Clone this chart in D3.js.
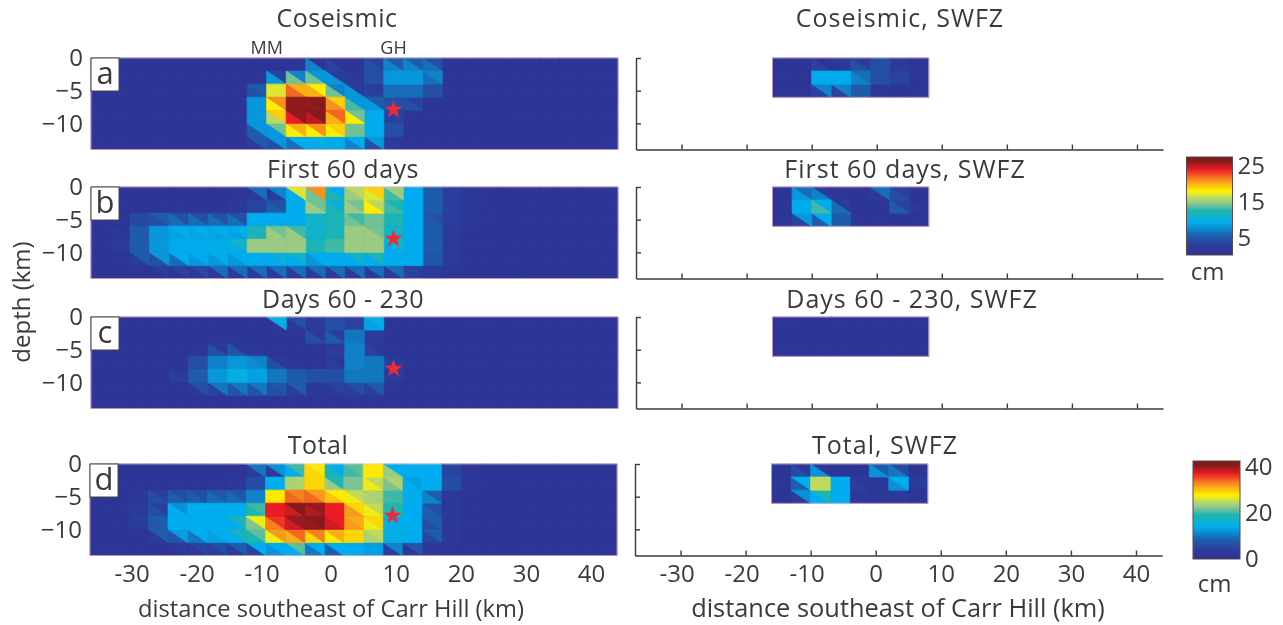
<!DOCTYPE html>
<html>
<head>
<meta charset="utf-8">
<script src="https://d3js.org/d3.v7.min.js"></script>
<style>
	html, body { margin: 0; padding: 0; background: #fff; }
	svg { display: block; filter: blur(0.5px); }
	text { font-family: "Open Sans", sans-serif; fill: #3a3a3a; }
</style>
</head>
<body>
<svg id="chart" width="1283" height="625"></svg>
<script>
// slip per triangle in cm, one row per 2 km of depth, 27 columns of 3 km from -37 km
var coseismicUpper = [
	[1,1,1,1,1,1,1,1,1,1,1,1,1,1,3,5,5,4,1,1,1,1,1,1,1,1,1],
	[1,1,1,1,1,1,1,1,1,3,7,8,2,1,4,8,8,7,1,1,1,1,1,1,1,1,1],
	[1,1,1,1,1,1,1,1,5,17,20,18,7,2,2,6,6,4,1,1,1,1,1,1,1,1,1],
	[1,1,1,1,1,1,1,1,8,21,26,26.5,19,8,5,4,3,1,1,1,1,1,1,1,1,1,1],
	[1,1,1,1,1,1,1,1,8,19,26,26.5,22,14,9,3,1,1,1,1,1,1,1,1,1,1,1],
	[1,1,1,1,1,1,1,1,8,14,20,21,19,14,9,4,1,1,1,1,1,1,1,1,1,1,1],
	[1,1,1,1,1,1,1,1,5,8,9,10,9,9,8,2,1,1,1,1,1,1,1,1,1,1,1]
];
var coseismicLower = [
	[1,1,1,1,1,1,1,1,1,1,1,7,3,1,4,7,7,6,1,1,1,1,1,1,1,1,1],
	[1,1,1,1,1,1,1,1,1,8,14,14,8,2,4,8,8,6,1,1,1,1,1,1,1,1,1],
	[1,1,1,1,1,1,1,1,4,17,22,20,14,8,3,6,6,4,1,1,1,1,1,1,1,1,1],
	[1,1,1,1,1,1,1,1,8,18,26,26,21,13,8,4,4,1,1,1,1,1,1,1,1,1,1],
	[1,1,1,1,1,1,1,1,8,16,24,25,20,18,9,3,1,1,1,1,1,1,1,1,1,1,1],
	[1,1,1,1,1,1,1,1,5,8,18,18,18,14,9,4,1,1,1,1,1,1,1,1,1,1,1],
	[1,1,1,1,1,1,1,1,2,4,6,9,9,7,4,2,1,1,1,1,1,1,1,1,1,1,1]
];
var first60Upper = [
	[1,1,1,1,1,1,1,1.5,6,7,17,21,9,16,19,15,9,5,2.5,1.5,1,1,1,1,1,1,1],
	[1,1,1,1,1,1,1,1.5,3,4,9,14,10,14,16,12,9,5,2.5,1.5,1,1,1,1,1,1,1],
	[1,1,3.5,5,4,4,4,4,9,9,9,11,12,13,14,12,9,4,2.5,1.5,1,1,1,1,1,1,1],
	[1,1,5,8,9,9,9,9,12,14,13,11,12,15,14,11,9,5,2,1,1,1,1,1,1,1,1],
	[1,2,5,8,9,9,9,11,15,15,15,12,13,15,15,11,9,5,2,1,1,1,1,1,1,1,1],
	[1,1,5,8,9,9,9,9,9,10,11,9,9,11,12,9,9,4.5,2,1,1,1,1,1,1,1,1],
	[1,1,1,2.5,3,3.5,6,6,6,6,6,6,6,6,6,6,3,2,1,1,1,1,1,1,1,1,1]
];
var first60Lower = [
	[1,1,1,1,1,1,1,1,1.5,2,9,14,12,15,17,13,9,5,2.5,1.5,1,1,1,1,1,1,1],
	[1,1,1,1,1,1,1,1.5,3,5,9,15,12,15,18,13,9,5,2.5,1.5,1,1,1,1,1,1,1],
	[1,1,3.5,4,6,6,6,6,9,9,9,11,12,14,14,12,9,5,2.5,1.5,1,1,1,1,1,1,1],
	[1,1.5,5,8,8.5,8.5,8.5,8.5,12,15,15,11,12,15,15,11,9,5,2,1,1,1,1,1,1,1,1],
	[1,1.5,5,8,9,9,9.5,9.5,15,15,15,12,13,15,15,9,9,5,2,1,1,1,1,1,1,1,1],
	[1,1,2,4,6,8,8,8,9,9,9,8,9,9,9,9,9,4.5,2,1,1,1,1,1,1,1,1],
	[1,1,1,1,1,1.5,2,2,2,2,2,2,2,2,2,2,3,1.5,1,1,1,1,1,1,1,1,1]
];
var laterUpper = [
	[1,1,1,1,1,1,1,1,1,9.5,4,2,4,3,9.5,1,1,1,1,1,1,1,1,1,1,1,1],
	[1,1,1,1,1,1,1,1,1,1,1,1.5,2.5,6.5,2,1,1,1,1,1,1,1,1,1,1,1,1],
	[1,1,1,1,1,1,1.5,1.5,1,1,1,1,1.5,7,1.5,1,1,1,1,1,1,1,1,1,1,1,1],
	[1,1,1,1,1,4,7,8,7,1.5,1,1,1,7,6.5,1.5,1,1,1,1,1,1,1,1,1,1,1],
	[1,1,1,1,1.5,5,8,10,8.5,6.5,5,4,4,6.5,6.5,2.5,1,1,1,1,1,1,1,1,1,1,1],
	[1,1,1,1,1,4,6.5,6.5,6.5,4.5,5,1.5,3,4,5,1,1,1,1,1,1,1,1,1,1,1,1],
	[1,1,1,1,1,1,1,1,1,1,1,1,1,1,1,1,1,1,1,1,1,1,1,1,1,1,1]
];
var laterLower = [
	[1,1,1,1,1,1,1,1,1,1.5,1.5,2,4,3,8.5,1,1,1,1,1,1,1,1,1,1,1,1],
	[1,1,1,1,1,1,1,1,1,1,1,4,5,6.5,2,1,1,1,1,1,1,1,1,1,1,1,1],
	[1,1,1,1,1,1,4,4.5,1.5,1,1,1,2.5,7,3,1,1,1,1,1,1,1,1,1,1,1,1],
	[1,1,1,1,1,4,7,8,7.5,4,1.5,1,2.5,7,6.5,3,1,1,1,1,1,1,1,1,1,1,1],
	[1,1,1,1,2.5,5,8,9.5,8.5,6.5,5,4,4,6.5,6.5,1.5,1,1,1,1,1,1,1,1,1,1,1],
	[1,1,1,1,1,1.5,3,4.5,4.5,4,2.5,1.5,1.5,2.5,2.5,1,1,1,1,1,1,1,1,1,1,1,1],
	[1,1,1,1,1,1,1,1,1,1,1,1,1,1,1,1,1,1,1,1,1,1,1,1,1,1,1]
];
var totalUpper = [
	[1.5,1.5,1.5,1.5,1.5,1.5,1.5,1.5,10,12,20,28,14,21,28,14,14,14,5,2,1.5,1.5,1.5,1.5,1.5,1.5,1.5],
	[1.5,1.5,1.5,1.5,1.5,1.5,1.5,2,6,14,24,29,19,22,25,24,13,14,6,2,1.5,1.5,1.5,1.5,1.5,1.5,1.5],
	[1.5,1.5,2,4,6,6,7,7,11,28,33,32,28,25,24,20,14,8,2.5,1.5,1.5,1.5,1.5,1.5,1.5,1.5,1.5],
	[1.5,1.5,3,4,12,14,14,14,20,37,41,40,37,29,25,19,14,6,2.5,1.5,1.5,1.5,1.5,1.5,1.5,1.5,1.5],
	[1.5,1.5,4,8,14,14,14,18,27,36,40,41,37,31,29,14,14,8,2,1.5,1.5,1.5,1.5,1.5,1.5,1.5,1.5],
	[1.5,1.5,1.5,8,13,14,14,18,21,32,34,33,31,29,25,15,14,8,2,1.5,1.5,1.5,1.5,1.5,1.5,1.5,1.5],
	[1.5,1.5,1.5,1.5,3,5,6,8,14,14,21,14,14,14,13,11,7,2,1.5,1.5,1.5,1.5,1.5,1.5,1.5,1.5,1.5]
];
var totalLower = [
	[1.5,1.5,1.5,1.5,1.5,1.5,1.5,1.5,3,3,14,29,18,20,28,23,14,14,5,2,1.5,1.5,1.5,1.5,1.5,1.5,1.5],
	[1.5,1.5,1.5,1.5,1.5,1.5,1.5,2,6,14,24,29,23,22,27,22,14,14,6,2,1.5,1.5,1.5,1.5,1.5,1.5,1.5],
	[1.5,1.5,2,6,8,8,9,9,11,28,34,34,30,27,24,20,14,11,2.5,1.5,1.5,1.5,1.5,1.5,1.5,1.5,1.5],
	[1.5,1.5,3,6,14,14,14,14,19,37,38,39,37,32,27,19,14,8,2.5,1.5,1.5,1.5,1.5,1.5,1.5,1.5,1.5],
	[1.5,1.5,3,7,14,14,14,14,22,33,38,40,38,32,27,15,14,6,2,1.5,1.5,1.5,1.5,1.5,1.5,1.5,1.5],
	[1.5,1.5,1.5,3,7,10,13,14,19,27,31,29,28,29,24,15,14,5,2,1.5,1.5,1.5,1.5,1.5,1.5,1.5,1.5],
	[1.5,1.5,1.5,1.5,1.5,2,4,4,5,12,14,10,8,14,13,4,2,2,1.5,1.5,1.5,1.5,1.5,1.5,1.5,1.5,1.5]
];

// SWFZ panels: 8 columns of 3 km from -16 km, 3 rows of 2 km
var swfzCoseismicUpper = [[1,1,1,2,2,4,2,1],[1,1,9,9,6,4,3,1.5],[1,1,7,7,5,1,1,1]];
var swfzCoseismicLower = [[1,1,3,1,4,4,2,1],[1,1,9,9,7,4,3,1],[1,1,3,3,5,1,1,1]];
var swfzFirst60Upper = [[1,6,2,1,1,6,3,1],[1,9,9,2,1,1,3,1],[1,8,9,5,1,1,1,1]];
var swfzFirst60Lower = [[1,8,7,1,1,2,4,1],[1,9,13,6,1,1,5,2],[1,3,5,5,1,1,1,1]];
var swfzLaterUpper = [[1,1,1,1,1,1,1,1],[1,1,1,1,1,1,1,1],[1,1,1,1,1,1,1,1]];
var swfzLaterLower = [[1,1,1,1,1,1,1,1],[1,1,1,1,1,1,1,1],[1,1,1,1,1,1,1,1]];
var swfzTotalUpper = [[1.5,2,3,1.5,1.5,8,6,1.5],[1.5,14,25,14,2,2,14,4],[1.5,12,19,14,2.5,2,3,1.5]];
var swfzTotalLower = [[1.5,6,12,1.5,1.5,12,10,1.5],[1.5,8,25,14,4,2,12,2],[1.5,3,14,14,2.5,2,3,1.5]];

var panelLetters = ["a", "b", "c", "d"];
var leftTitles = ["Coseismic", "First 60 days", "Days 60 - 230", "Total"];
var rightTitles = ["Coseismic, SWFZ", "First 60 days, SWFZ", "Days 60 - 230, SWFZ", "Total, SWFZ"];
var xTicks = [-30, -20, -10, 0, 10, 20, 30, 40];
var depthTicks = [0, -5, -10];
var barTicksSmall = [5, 15, 25];
var barTicksLarge = [0, 20, 40];
var starPoint = [9.5, -7.9];
var faults = [{name: "MM", km: -10}, {name: "GH", km: 9.5}];

var leftData = [[coseismicUpper, coseismicLower], [first60Upper, first60Lower], [laterUpper, laterLower], [totalUpper, totalLower]];
var rightData = [[swfzCoseismicUpper, swfzCoseismicLower], [swfzFirst60Upper, swfzFirst60Lower], [swfzLaterUpper, swfzLaterLower], [swfzTotalUpper, swfzTotalLower]];
var slipMax = [27.5, 27.5, 27.5, 42.5];

var svg = d3.select("#chart");
var panelTop = [58, 187, 317, 464];
var titleY = [27, 178, 308, 454];
var panelH = 91.5, panelW = 527;

var x = d3.scaleLinear().domain([-37, 44]).range([0, panelW]);
var y = d3.scaleLinear().domain([0, -14]).range([0, panelH]);

// colours picked off the colour bars
var palette = d3.scaleLinear()
	.domain([0, 0.1, 0.2, 0.33, 0.45, 0.53, 0.58, 0.65, 0.76, 0.87, 0.95, 1])
	.range(["#2e3192", "#2b3f9e", "#1b62ae", "#00aeef", "#1fb5b0", "#8ec78c", "#b9d767", "#fff200", "#f7941d", "#ed1c24", "#8b1a1c", "#7a1a1a"]);

function drawCells(g, pair, startKm, maxVal){
	var tri = [];
	pair[0].forEach(function(row, r){
		row.forEach(function(v, c){
			var x0 = x(startKm + c * 3), x1 = x(startKm + (c + 1) * 3);
			var y0 = y(-r * 2), y1 = y(-(r + 1) * 2);
			tri.push({v: v, pts: [[x0, y0], [x1, y0], [x1, y1]]});
			tri.push({v: pair[1][r][c], pts: [[x0, y0], [x0, y1], [x1, y1]]});
		});
	});
	// low values first so the strokes never eat into a hot cell
	tri.sort(function(a, b){ return d3.ascending(a.v, b.v); });

	// backing rect, hides the hairlines between triangles of one colour
	g.append("rect")
		.attr("x", x(startKm)).attr("y", 0)
		.attr("width", x(startKm + pair[0][0].length * 3) - x(startKm))
		.attr("height", y(-pair[0].length * 2))
		.style("fill", palette(d3.min(tri, function(d){ return d.v; }) / maxVal));

	g.selectAll(".tri")
		.data(tri)
		.enter()
		.append("path")
		.attr("class", "tri")
		.attr("d", function(d){ return "M" + d.pts.join("L") + "Z"; })
		.style("fill", function(d){ return palette(d.v / maxVal); })
		.style("stroke", function(d){ return palette(d.v / maxVal); })
		.style("stroke-width", 0.8)
		.style("stroke-linejoin", "bevel");
}

function tidyLabels(sel){
	sel.selectAll("text")
		.style("font-size", "24px")
		.style("fill", "#3a3a3a");
}

panelTop.forEach(function(top, i){
	var shift = i == 3 ? -1 : 0;

	// left column
	var left = svg.append("g").attr("transform", "translate(" + (91 + shift) + "," + top + ")");
	drawCells(left, leftData[i], -37, slipMax[i]);
	left.append("rect")
		.attr("width", panelW).attr("height", panelH)
		.style("fill", "none").style("stroke", "#f2b8cc").style("stroke-width", 0.7);

	var yAxisL = left.append("g")
		.call(d3.axisLeft(y).tickValues(depthTicks).tickSize(0).tickPadding(8));
	yAxisL.select(".domain").remove();
	tidyLabels(yAxisL);

	left.append("path")
		.attr("transform", "translate(" + x(starPoint[0]) + "," + y(starPoint[1]) + ")")
		.attr("d", d3.symbol().type(d3.symbolStar).size(105))
		.style("fill", "#ee2a36");

	left.append("rect")
		.attr("x", 0).attr("y", 0).attr("width", 28).attr("height", 33)
		.style("fill", "#fff").style("stroke", "#444").style("stroke-width", 1);
	left.append("text")
		.attr("x", 14).attr("y", 26)
		.attr("text-anchor", "middle")
		.style("font-size", "31px")
		.text(panelLetters[i]);

	svg.append("text")
		.attr("x", [337, 343, 343, 318][i]).attr("y", titleY[i])
		.attr("text-anchor", "middle")
		.style("font-size", "25px")
		.style("letter-spacing", "0.5px")
		.text(leftTitles[i]);

	// right column
	var right = svg.append("g").attr("transform", "translate(" + (636 + shift) + "," + top + ")");
	drawCells(right, rightData[i], -16, slipMax[i]);
	right.append("rect")
		.attr("x", x(-16)).attr("width", x(8) - x(-16)).attr("height", y(-6))
		.style("fill", "none").style("stroke", "#f2b8cc").style("stroke-width", 0.7);

	var xAxisR = right.append("g")
		.attr("transform", "translate(0," + panelH + ")")
		.call(d3.axisBottom(x).tickValues(xTicks).tickSize(-5).tickPadding(9).tickSizeOuter(0).tickFormat(i == 3 ? null : ""));
	var yAxisR = right.append("g")
		.call(d3.axisLeft(y).tickValues(depthTicks).tickSize(-5).tickSizeOuter(0).tickFormat(""));
	[xAxisR, yAxisR].forEach(function(ax){
		ax.selectAll("path,line").style("stroke", "#3a3a3a").style("stroke-width", 1.4);
	});
	tidyLabels(xAxisR);

	svg.append("text")
		.attr("x", [900, 905, 912, 885][i]).attr("y", titleY[i])
		.attr("text-anchor", "middle")
		.style("font-size", "25px")
		.style("letter-spacing", "1px")
		.text(rightTitles[i]);

	if (i == 3) {
		var xAxisL = left.append("g")
			.attr("transform", "translate(0," + panelH + ")")
			.call(d3.axisBottom(x).tickValues(xTicks).tickSize(0).tickPadding(9).tickFormat(d3.format("d")));
		xAxisL.select(".domain").remove();
		tidyLabels(xAxisL);
		// minus sign hangs left of the digits
		[xAxisL, xAxisR].forEach(function(ax){
			ax.selectAll("text")
				.text(function(d){ return d; })
				.attr("dx", function(d){ return d < 0 ? -4 : 0; });
		});
	}
});

svg.selectAll(".fault")
	.data(faults)
	.enter()
	.append("text")
	.attr("class", "fault")
	.attr("x", function(d){ return 91 + x(d.km); })
	.attr("y", 54)
	.attr("text-anchor", "middle")
	.style("font-size", "18px")
	.text(function(d){ return d.name; });

svg.append("text")
	.attr("transform", "translate(30,302) rotate(-90)")
	.attr("text-anchor", "middle")
	.style("font-size", "24px")
	.text("depth (km)");

[[331, 23.7], [898, 25.4]].forEach(function(t){
	svg.append("text")
		.attr("x", t[0]).attr("y", 617)
		.attr("text-anchor", "middle")
		.style("font-size", t[1] + "px")
		.text("distance southeast of Carr Hill (km)");
});

// colour bars
var defs = svg.append("defs");
var grad = defs.append("linearGradient")
	.attr("id", "barGrad")
	.attr("x1", 0).attr("y1", 1).attr("x2", 0).attr("y2", 0);
grad.selectAll("stop")
	.data(palette.domain())
	.enter()
	.append("stop")
	.attr("offset", function(d){ return d; })
	.attr("stop-color", function(d){ return palette(d); });

function colorBar(left, top, w, h, lo, hi, ticks, cmY){
	var s = d3.scaleLinear().domain([lo, hi]).range([h, 0]);
	var g = svg.append("g").attr("transform", "translate(" + left + "," + top + ")");
	g.append("rect")
		.attr("width", w).attr("height", h)
		.style("fill", "url(#barGrad)")
		.style("stroke", "#5a4a4a").style("stroke-width", 1);
	var ax = g.append("g")
		.attr("transform", "translate(" + w + ",0)")
		.call(d3.axisRight(s).tickValues(ticks).tickSize(0).tickPadding(5));
	ax.select(".domain").remove();
	tidyLabels(ax);
	g.append("text")
		.attr("x", w / 2 - 2).attr("y", cmY)
		.attr("text-anchor", "middle")
		.style("font-size", "24px")
		.text("cm");
}
colorBar(1186.5, 157, 46, 98, 0.3, 27.5, barTicksSmall, 123);
colorBar(1193, 461, 47, 98, 0, 42.5, barTicksLarge, 131);
</script>
</body>
</html>
